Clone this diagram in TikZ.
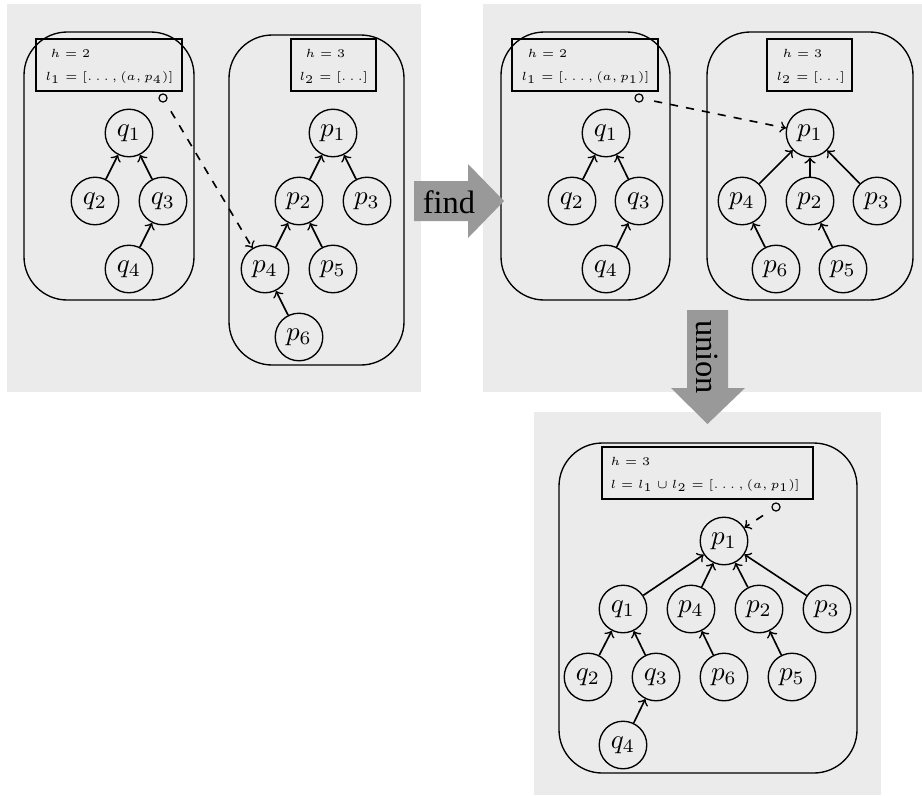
\documentclass[tikz,border=0pt]{standalone}
\usepackage{fontspec}
\newfontfamily\arrowfont{Liberation Serif}
\definecolor{panelbg}{HTML}{EBEBEB}
\definecolor{arrowgray}{HTML}{999999}
\newcommand{\infotext}[1]{\scalebox{0.875}{#1}}
\begin{document}
\begin{tikzpicture}[x=0.37pt,y=-0.37pt,
  vtx/.style={circle,draw,line width=0.5pt,minimum size=17.6pt,inner sep=0pt},
  ptr/.style={circle,draw,line width=0.45pt,minimum size=3pt,inner sep=0pt},
  panel/.style={fill=panelbg,draw=none},
  group/.style={draw,line width=0.5pt,rounded corners=16pt},
  infobox/.style={draw,line width=0.45pt},
  info/.style={anchor=base west,inner sep=0pt,font=\tiny},
  edge/.style={->,line width=0.6pt},
  link/.style={->,dashed,line width=0.6pt,shorten <=4pt},
  bigarrow/.style={fill=arrowgray,draw=none},
  arrowlabel/.style={font=\arrowfont\fontsize{12}{14}\selectfont,inner sep=0pt}]
\path[use as bounding box] (0,0) rectangle (922,795);
% panels
\fill[panel] (7,4) rectangle (421,392);
\fill[panel] (483,4) rectangle (922,392);
\fill[panel] (534,412) rectangle (881,795);

% ---------- panel 1 ----------
\draw[group] (24,32) rectangle (194,300);
\draw[infobox] (36,39) rectangle (182,91);
\node[info] (a1h) at (50,57) {\infotext{$h = 2$}};
\node[info] (a1l) at (45,80) {\infotext{$l_1 = [\ldots,(a,p_4)]$}};
\node[ptr] (a1ptr) at (163,98) {};
\node[vtx] (aq1) at (129,133) {$q_1$};
\node[vtx] (aq2) at (95,201) {$q_2$};
\node[vtx] (aq3) at (163,201) {$q_3$};
\node[vtx] (aq4) at (129,269) {$q_4$};
\draw[edge] (aq2) -- (aq1);
\draw[edge] (aq3) -- (aq1);
\draw[edge] (aq4) -- (aq3);

\draw[group] (229,35) rectangle (404,365);
\draw[infobox] (291,39) rectangle (376,91);
\node[info] (a2h) at (305,57) {\infotext{$h = 3$}};
\node[info] (a2l) at (299,80) {\infotext{$l_2 = [\ldots]$}};
\node[vtx] (ap1) at (333,133) {$p_1$};
\node[vtx] (ap2) at (299,201) {$p_2$};
\node[vtx] (ap3) at (367,201) {$p_3$};
\node[vtx] (ap4) at (265,269) {$p_4$};
\node[vtx] (ap5) at (333,269) {$p_5$};
\node[vtx] (ap6) at (299,337) {$p_6$};
\draw[edge] (ap2) -- (ap1);
\draw[edge] (ap3) -- (ap1);
\draw[edge] (ap4) -- (ap2);
\draw[edge] (ap5) -- (ap2);
\draw[edge] (ap6) -- (ap4);
\draw[link] (a1ptr) -- (ap4);

% ---------- panel 2 ----------
\draw[group] (501,32) rectangle (670,300);
\draw[infobox] (512,39) rectangle (658,91);
\node[info] (b1h) at (527,57) {\infotext{$h = 2$}};
\node[info] (b1l) at (521,80) {\infotext{$l_1 = [\ldots,(a,p_1)]$}};
\node[ptr] (b1ptr) at (639,98) {};
\node[vtx] (bq1) at (606,133) {$q_1$};
\node[vtx] (bq2) at (572,201) {$q_2$};
\node[vtx] (bq3) at (639,201) {$q_3$};
\node[vtx] (bq4) at (606,269) {$q_4$};
\draw[edge] (bq2) -- (bq1);
\draw[edge] (bq3) -- (bq1);
\draw[edge] (bq4) -- (bq3);

\draw[group] (707,32) rectangle (913,300);
\draw[infobox] (767,39) rectangle (852,91);
\node[info] (b2h) at (782,57) {\infotext{$h = 3$}};
\node[info] (b2l) at (776,80) {\infotext{$l_2 = [\ldots]$}};
\node[vtx] (bp1) at (810,133) {$p_1$};
\node[vtx] (bp4) at (742,201) {$p_4$};
\node[vtx] (bp2) at (810,201) {$p_2$};
\node[vtx] (bp3) at (877,201) {$p_3$};
\node[vtx] (bp6) at (776,269) {$p_6$};
\node[vtx] (bp5) at (843,269) {$p_5$};
\draw[edge] (bp4) -- (bp1);
\draw[edge] (bp2) -- (bp1);
\draw[edge] (bp3) -- (bp1);
\draw[edge] (bp6) -- (bp4);
\draw[edge] (bp5) -- (bp2);
\draw[link] (b1ptr) -- (bp1);

% ---------- panel 3 ----------
\draw[group] (559,443) rectangle (857,773);
\draw[infobox] (602,447) rectangle (813,499);
\node[info] (ch) at (610,465) {\infotext{$h = 3$}};
\node[info] (cl) at (610,488) {\infotext{$l = l_1 \cup l_2 = [\ldots,(a,p_1)]$}};
\node[ptr] (cptr) at (776,507) {};
\node[vtx] (cp1) at (724,541) {$p_1$};
\node[vtx] (cq1) at (623,609) {$q_1$};
\node[vtx] (cp4) at (691,609) {$p_4$};
\node[vtx] (cp2) at (759,609) {$p_2$};
\node[vtx] (cp3) at (827,609) {$p_3$};
\node[vtx] (cq2) at (588,677) {$q_2$};
\node[vtx] (cq3) at (656,677) {$q_3$};
\node[vtx] (cp6) at (724,677) {$p_6$};
\node[vtx] (cp5) at (792,677) {$p_5$};
\node[vtx] (cq4) at (623,745) {$q_4$};
\draw[edge] (cq1) -- (cp1);
\draw[edge] (cp4) -- (cp1);
\draw[edge] (cp2) -- (cp1);
\draw[edge] (cp3) -- (cp1);
\draw[edge] (cq2) -- (cq1);
\draw[edge] (cq3) -- (cq1);
\draw[edge] (cp6) -- (cp4);
\draw[edge] (cp5) -- (cp2);
\draw[edge] (cq4) -- (cq3);
\draw[link] (cptr) -- (cp1);

% ---------- big arrows ----------
\fill[bigarrow] (414,181) -- (468,181) -- (468,164) -- (504,201) -- (468,238) -- (468,221) -- (414,221) -- cycle;
\node[arrowlabel,anchor=base] (findlbl) at (449,213) {find};
\fill[bigarrow] (687,310) -- (728,310) -- (728,388) -- (745,388) -- (707.5,424) -- (671,388) -- (687,388) -- cycle;
\node[arrowlabel,rotate=-90,anchor=base] (unionlbl) at (696,357) {union};
\end{tikzpicture}
\end{document}
